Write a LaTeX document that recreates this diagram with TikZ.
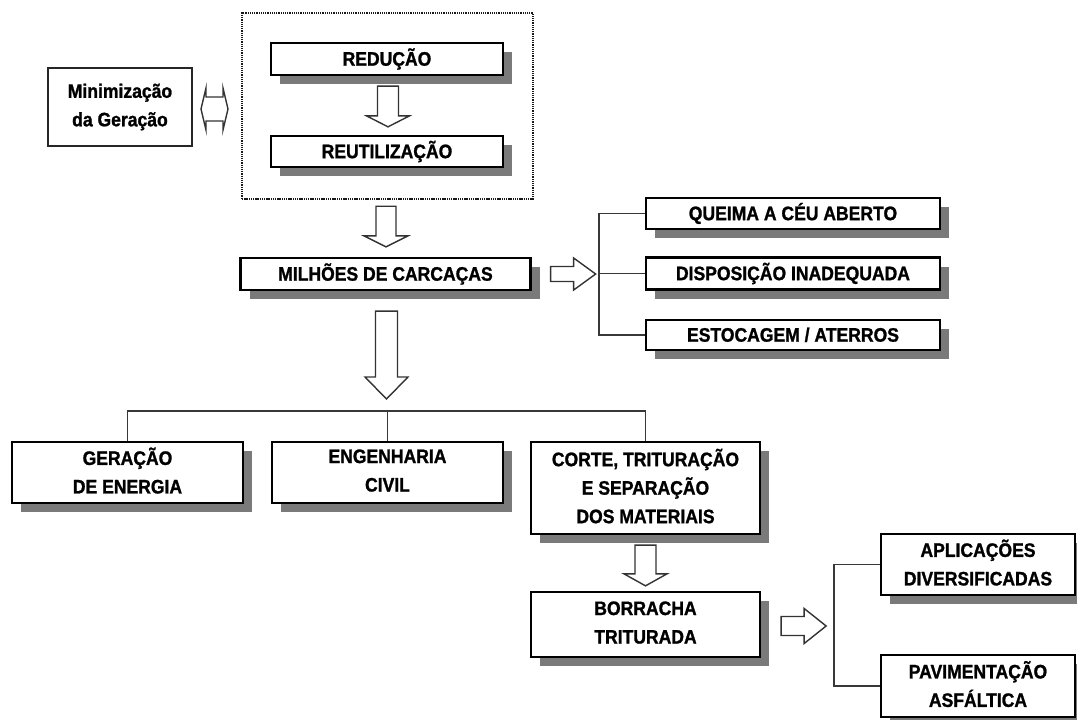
\documentclass[tikz,border=0pt]{standalone}
\usepackage{fontspec}
\setmainfont[FakeStretch=0.9, BoldFeatures={FakeBold=1.2}]{Liberation Sans}
\usetikzlibrary{calc,shadows}
\tikzset{
  txt/.style={font={\fontsize{19.5}{28.5}\selectfont\bfseries}, align=center, inner sep=0pt,
    execute at begin node={\vphantom{ÃÇ}}, execute at end node={\vphantom{ÃÇ}}},
  box/.style={txt, draw=black, line width=2.3pt, fill=white,
    drop shadow={shadow xshift=9pt, shadow yshift=-9pt, fill=black!52, draw=none, opacity=1}},
  plainbox/.style={txt, draw=black!85, line width=2pt, fill=white},
  frame/.style={draw=black!90, line width=2.4pt, dash pattern=on 1.3pt off 0.9pt, inner sep=0pt},
  conn/.style={draw=black!78, line width=1.8pt},
  blk/.style={draw=black!80, line width=1.4pt, fill=white, line join=miter}
}
% vertical block arrow: top point, tip point, shaft half width, head half width, head length
\newcommand{\vblkarrow}[5]{%
  \draw[blk] let \p1=(#1), \p2=(#2) in
    (\x1-#3pt,\y1) -- (\x1+#3pt,\y1) -- (\x1+#3pt,\y2+#5pt) -- (\x1+#4pt,\y2+#5pt)
    -- (\x1,\y2) -- (\x1-#4pt,\y2+#5pt) -- (\x1-#3pt,\y2+#5pt) -- cycle;}
% horizontal block arrow: start point, tip point, shaft half height, head half height, head length
\newcommand{\hblkarrow}[5]{%
  \draw[blk] let \p1=(#1), \p2=(#2) in
    (\x1,\y1+#3pt) -- (\x2-#5pt,\y1+#3pt) -- (\x2-#5pt,\y1+#4pt) -- (\x2,\y1)
    -- (\x2-#5pt,\y1-#4pt) -- (\x2-#5pt,\y1-#3pt) -- (\x1,\y1-#3pt) -- cycle;}
\begin{document}
\begin{tikzpicture}[x=1pt,y=-1pt]
\useasboundingbox (0,0) rectangle (1077,720);

% top group
\node[plainbox, minimum width=144pt, minimum height=78pt] (mini) at (120,107) {Minimização\\da Geração};
\node[frame, minimum width=291pt, minimum height=186pt] (frame) at (387.5,106) {};
\node[box, minimum width=232pt, minimum height=32pt] (red) at (387,59) {REDUÇÃO};
\node[box, minimum width=232pt, minimum height=31pt] (reu) at (387,151.5) {REUTILIZAÇÃO};

\node[box, minimum width=290pt, minimum height=32pt] (mil) at (385.5,274) {MILHÕES DE CARCAÇAS};

\node[box, minimum width=294pt, minimum height=31pt] (queima) at (793,213.5) {QUEIMA A CÉU ABERTO};
\node[box, minimum width=294pt, minimum height=32pt] (disp) at (793,273.5) {DISPOSIÇÃO INADEQUADA};
\node[box, minimum width=294pt, minimum height=30pt] (esto) at (793,335) {ESTOCAGEM / ATERROS};

\node[box, minimum width=231pt, minimum height=61pt] (ger) at (127.5,472.5) {GERAÇÃO\\DE ENERGIA};
\node[box, minimum width=231pt, minimum height=61pt] (eng) at (387.5,472.5) {ENGENHARIA\\CIVIL};
\node[box, minimum width=229pt, minimum height=92pt] (corte) at (645.5,488) {CORTE, TRITURAÇÃO\\E SEPARAÇÃO\\DOS MATERIAIS};

\node[box, minimum width=229pt, minimum height=65pt] (borr) at (645.5,624.5) {BORRACHA\\TRITURADA};

\node[box, minimum width=194pt, minimum height=61pt] (apl) at (978,564.5) {APLICAÇÕES\\DIVERSIFICADAS};
\node[box, minimum width=194pt, minimum height=62pt] (pav) at (978,686) {PAVIMENTAÇÃO\\ASFÁLTICA};

% double arrow between Minimização and frame
\begin{scope}[shift={(mini.east)}]
  \draw[blk] (8,2) -- (13,-19) -- (13,-10) -- (30,-10) -- (30,-19) -- (35,2)
    -- (30,23) -- (30,14) -- (13,14) -- (13,23) -- cycle;
\end{scope}

% block arrows
\vblkarrow{$(red.south)+(1,10)$}{$(reu.north)+(1,-8)$}{10.5}{21.5}{11}
\vblkarrow{$(frame.south)+(-1.5,6)$}{$(mil.north)+(0.5,-10)$}{10}{22}{11}
\coordinate (hub) at (387.5,411);
\vblkarrow{$(mil.south)+(1,20)$}{$(hub)+(-1,-12)$}{11}{21.5}{22}
\vblkarrow{$(corte.south)+(0,10)$}{$(borr.north)+(0,-5)$}{10.5}{21.5}{12}
\hblkarrow{$(mil.east)+(19,0)$}{$(mil.east)+(64,0)$}{7.5}{16}{22}
\hblkarrow{$(borr.east)+(20,1.5)$}{$(borr.east)+(65,1.5)$}{9.5}{17.5}{22}

% bracket connectors
\draw[conn] (queima.west) -| ($(disp.west)+(-46,0)$) |- (esto.west);
\draw[conn] (disp.west) -- ++(-46,0);
\draw[conn] (ger.north) |- (hub) -| (corte.north);
\draw[conn] (eng.north) -- (eng.north |- hub);
\draw[conn] (apl.west) -| ($(apl.west)+(-46,0)$) |- (pav.west);
\end{tikzpicture}
\end{document}
